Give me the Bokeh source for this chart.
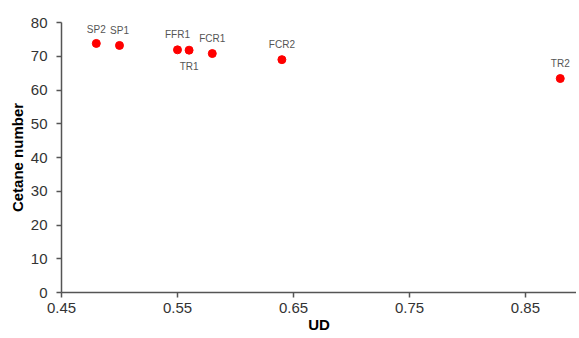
from bokeh.plotting import figure
from bokeh.models import FixedTicker, ColumnDataSource, Range1d
from bokeh.core.properties import value
from bokeh.embed import file_html
from bokeh.resources import INLINE

# data
labels = ["SP2", "SP1", "FFR1", "TR1", "FCR1", "FCR2", "TR2"]
ud = [0.480, 0.500, 0.550, 0.560, 0.580, 0.640, 0.880]
cetane = [73.8, 73.2, 71.9, 71.8, 70.8, 69.0, 63.4]
x_ticks = [0.45, 0.55, 0.65, 0.75, 0.85]
y_ticks = [0, 10, 20, 30, 40, 50, 60, 70, 80]

# style: label offsets (screen px, positive = down)
label_dy = [-14, -15, -15, 16, -15, -15, -15]

src = ColumnDataSource(dict(x=ud, y=cetane, lab=labels, dy=label_dy))

p = figure(width=576, height=336, output_backend="svg", toolbar_location=None,
           x_range=Range1d(0.45, 0.894), y_range=Range1d(0, 80),
           min_border_left=61, min_border_right=0, min_border_top=22, min_border_bottom=44)
p.outline_line_color = None
p.xgrid.visible = False
p.ygrid.visible = False

p.scatter("x", "y", source=src, size=8, color="#ff0000", line_color="#ff0000")
p.text("x", "y", text="lab", source=src, y_offset="dy", text_align="center",
       text_baseline="middle", text_font=value("Liberation Sans"),
       text_font_size="10px", text_color="#555555")

for ax in (p.xaxis[0], p.yaxis[0]):
    ax.axis_line_color = "#555555"
    ax.axis_line_width = 1.5
    ax.major_tick_line_color = "#555555"
    ax.major_tick_line_width = 1.5
    ax.major_tick_out = 5
    ax.major_tick_in = 0
    ax.minor_tick_line_color = None
    ax.major_label_text_font = "Liberation Sans"
    ax.major_label_text_font_size = "15px"
    ax.major_label_text_color = "#333333"
    ax.axis_label_text_font = "Liberation Sans"
    ax.axis_label_text_font_size = "15px"
    ax.axis_label_text_font_style = "bold"
    ax.axis_label_text_color = "#000000"

p.xaxis.ticker = FixedTicker(ticks=x_ticks)
p.yaxis.ticker = FixedTicker(ticks=y_ticks)
p.xaxis.axis_label = "UD"
p.yaxis.axis_label = "Cetane number"
p.xaxis.major_label_standoff = 5
p.yaxis.major_label_standoff = 9
p.xaxis.axis_label_standoff = 0
p.yaxis.axis_label_standoff = 2

open("out.html", "w").write(file_html(p, INLINE))
